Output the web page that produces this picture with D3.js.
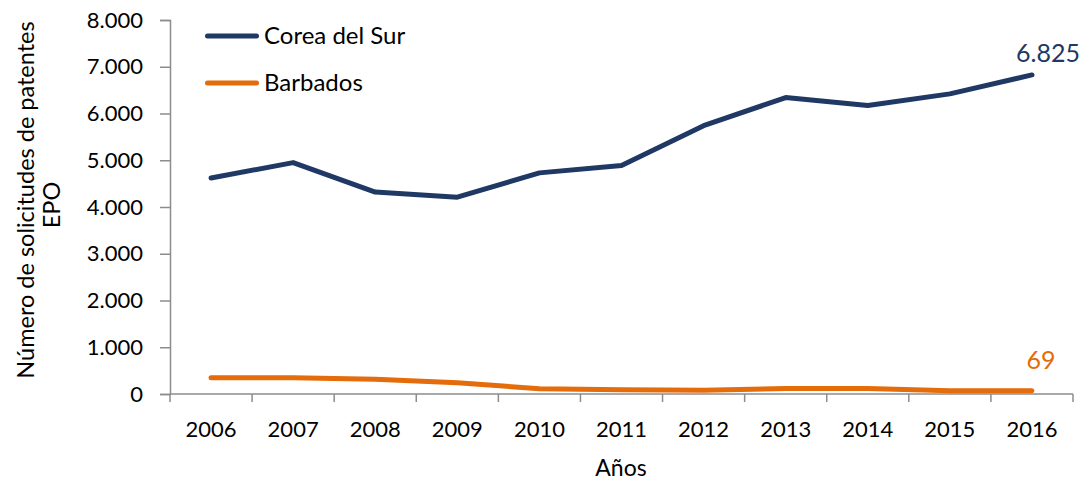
<!DOCTYPE html>
<html>
<head>
<meta charset="utf-8">
<script src="https://cdn.jsdelivr.net/npm/d3@7"></script>
<style>
  body { margin: 0; background: #fff; }
  text { font-family: Lato, "Open Sans", sans-serif; fill: #000; }
</style>
</head>
<body>
<svg id="chart" width="1087" height="483"></svg>
<script>
// Solicitudes de patentes EPO por año
const anios = ["2006", "2007", "2008", "2009", "2010", "2011", "2012", "2013", "2014", "2015", "2016"];
const corea = [4620, 4950, 4320, 4210, 4730, 4890, 5740, 6340, 6170, 6420, 6825];
const barbados = [350, 350, 315, 240, 113, 92, 80, 115, 120, 72, 69];
const series = [
    { nombre: "Corea del Sur", valores: corea, color: "#1f3864" },
    { nombre: "Barbados", valores: barbados, color: "#e46c0a" }
];
const yTicks = [0, 1000, 2000, 3000, 4000, 5000, 6000, 7000, 8000];

const svg = d3.select("#chart");

// Escalas
const x = d3.scaleBand().domain(anios).range([170, 1073]);
const y = d3.scaleLinear().domain([0, 8000]).range([394, 20]);

const fmt = v => d3.format(",")(v).replace(/,/g, ".");

// Eje Y
const ejeY = svg.append("g")
    .attr("transform", "translate(170,0)")
    .call(d3.axisLeft(y).tickValues(yTicks).tickSize(10).tickPadding(17).tickFormat(fmt));
ejeY.selectAll("text").attr("font-size", "22px").attr("fill", "#000");
ejeY.select(".domain").attr("stroke", "#8c8c8c").attr("stroke-width", 1.5);
ejeY.selectAll(".tick line").attr("stroke", "#8c8c8c").attr("stroke-width", 1.5);

// Eje X (marcas entre categorías)
const ejeX = svg.append("g").attr("transform", "translate(0,394)");
ejeX.append("line")
    .attr("x1", 170).attr("x2", 1073)
    .attr("stroke", "#8c8c8c").attr("stroke-width", 1.5);
ejeX.selectAll(".marca")
    .data(anios.concat(["fin"]))
    .enter().append("line")
    .attr("x1", (d, i) => i < anios.length ? x(d) : x.range()[1])
    .attr("x2", (d, i) => i < anios.length ? x(d) : x.range()[1])
    .attr("y1", 0).attr("y2", 8)
    .attr("stroke", "#8c8c8c").attr("stroke-width", 1.5);
ejeX.selectAll(".etiqueta")
    .data(anios)
    .enter().append("text")
    .attr("x", d => x(d) + x.bandwidth() / 2)
    .attr("y", 43)
    .attr("text-anchor", "middle")
    .attr("font-size", "22px")
    .text(d => d);

// Líneas
const linea = d3.line()
    .x((d, i) => x(anios[i]) + x.bandwidth() / 2)
    .y(d => y(d));

series.forEach(s => {
    svg.append("path")
        .datum(s.valores)
        .attr("d", linea)
        .attr("fill", "none")
        .attr("stroke", s.color)
        .attr("stroke-width", 5)
        .attr("stroke-linejoin", "round")
        .attr("stroke-linecap", "round");
});

// Etiquetas del último valor
const ultimo = anios[anios.length - 1];
svg.append("text")
    .attr("x", x(ultimo) + x.bandwidth() / 2 + 48)
    .attr("y", y(corea[corea.length - 1]) - 13)
    .attr("text-anchor", "end")
    .attr("font-size", "25px")
    .style("fill", series[0].color)
    .text(fmt(corea[corea.length - 1]));
svg.append("text")
    .attr("x", x(ultimo) + x.bandwidth() / 2 + 9)
    .attr("y", y(barbados[barbados.length - 1]) - 22)
    .attr("text-anchor", "middle")
    .attr("font-size", "25px")
    .style("fill", series[1].color)
    .text(barbados[barbados.length - 1]);

// Leyenda
series.forEach((s, i) => {
    const ly = 36 + i * 47;
    svg.append("line")
        .attr("x1", 207.5).attr("x2", 256.5)
        .attr("y1", ly).attr("y2", ly)
        .attr("stroke", s.color).attr("stroke-width", 5)
        .attr("stroke-linecap", "round");
    svg.append("text")
        .attr("x", 264).attr("y", ly + 8)
        .attr("font-size", "24px")
        .text(s.nombre);
});

// Títulos de ejes
svg.append("text")
    .attr("transform", "translate(34,200) rotate(-90)")
    .attr("text-anchor", "middle")
    .attr("font-size", "23.5px")
    .text("Número de solicitudes de patentes");
svg.append("text")
    .attr("transform", "translate(60,205) rotate(-90)")
    .attr("text-anchor", "middle")
    .attr("font-size", "23.5px")
    .text("EPO");
svg.append("text")
    .attr("x", 621).attr("y", 476)
    .attr("text-anchor", "middle")
    .attr("font-size", "23px")
    .text("Años");
</script>
</body>
</html>
